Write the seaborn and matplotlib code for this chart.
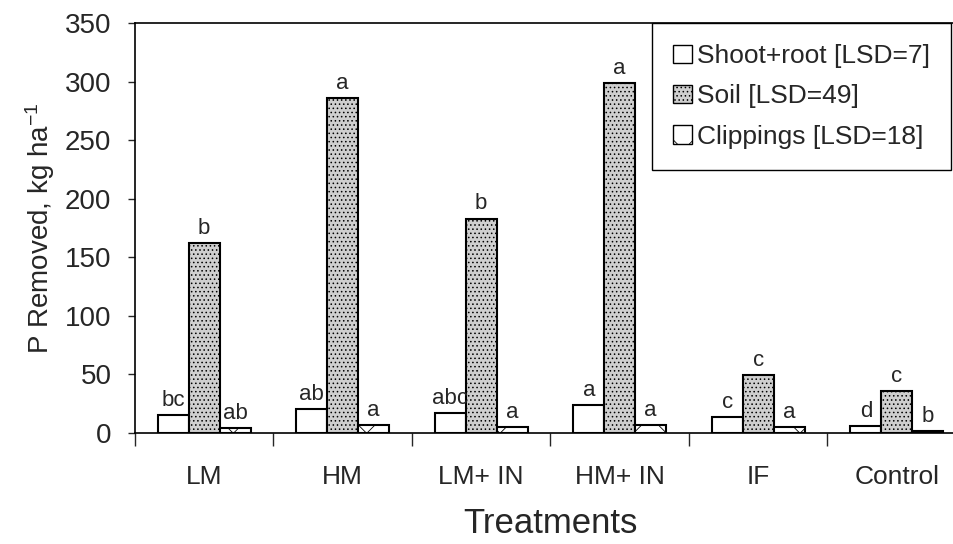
import pandas as pd
import matplotlib.pyplot as plt
import seaborn as sns
from matplotlib.patches import Patch

# chart data
treatments = ["LM", "HM", "LM+ IN", "HM+ IN", "IF", "Control"]
shoot_root = [15.5, 20.5, 17, 24, 13.5, 6]
soil = [162, 286, 183, 299, 49.5, 36]
clippings = [4, 7, 5, 7, 5, 1.5]

shoot_letters = ["bc", "ab", "abc", "a", "c", "d"]
soil_letters = ["b", "a", "b", "a", "c", "c"]
clip_letters = ["ab", "a", "a", "a", "a", "b"]

components = ["Shoot+root [LSD=7]", "Soil [LSD=49]", "Clippings [LSD=18]"]

rows = []
for comp, vals in zip(components, [shoot_root, soil, clippings]):
    for t, v in zip(treatments, vals):
        rows.append({"Treatment": t, "P": v, "Component": comp})
df = pd.DataFrame(rows)

sns.set_style("ticks")
plt.rcParams["font.family"] = ["Liberation Sans", "DejaVu Sans"]
plt.rcParams["mathtext.default"] = "regular"
plt.rcParams["hatch.linewidth"] = 0.6

fig = plt.figure(figsize=(9.54, 5.44), dpi=100)
ax = fig.add_axes([135 / 954, 111 / 544, 831 / 954, 410 / 544])

sns.barplot(data=df, x="Treatment", y="P", hue="Component", order=treatments,
            hue_order=components, palette=["white", "#c8c8c8", "white"],
            width=0.67, edgecolor="black", linewidth=1.5, legend=False, ax=ax)

# styles per series
faces = ["white", "#cfcfcf", "white"]
hatches = [None, "....", "x"]
letters = [shoot_letters, soil_letters, clip_letters]
for cont, fc, h, labs in zip(ax.containers, faces, hatches, letters):
    for bar, lab in zip(cont, labs):
        bar.set_facecolor(fc)
        bar.set_edgecolor("black")
        if h:
            bar.set_hatch(h)
        ax.annotate(lab, (bar.get_x() + bar.get_width() / 2, bar.get_height()),
                    xytext=(0, 3), textcoords="offset points",
                    ha="center", va="bottom", fontsize=16)

ax.set_ylim(0, 350)
ax.set_yticks(range(0, 351, 50))
ax.set_xlim(-0.5, 5.5)
ax.set_xticks([i + 0.5 for i in range(-1, 6)], minor=True)
ax.tick_params(axis="x", which="major", length=0, pad=23, labelsize=19)
ax.tick_params(axis="x", which="minor", length=9, width=1, direction="out")
ax.tick_params(axis="y", length=5, width=1, direction="out", pad=12, labelsize=20)

for s in ["left", "bottom", "top"]:
    ax.spines[s].set_visible(True)
    ax.spines[s].set_linewidth(1.2)
    ax.spines[s].set_color("black")
ax.spines["right"].set_visible(False)

ax.set_xlabel("Treatments", fontsize=25, labelpad=13)
ax.set_ylabel("P Removed, kg ha$^{-1}$", fontsize=20, labelpad=6)

handles = [Patch(facecolor=fc, edgecolor="black", hatch=h, linewidth=1)
           for fc, h in zip(faces, hatches)]
leg = fig.legend(handles, components, loc="upper left",
                 bbox_to_anchor=(652 / 954, 1 - 23 / 544), borderaxespad=0,
                 fontsize=19, frameon=True, fancybox=False, framealpha=1,
                 edgecolor="black", handlelength=0.7, handleheight=0.7,
                 handletextpad=0.2, labelspacing=0.62, borderpad=0.8)
leg.get_frame().set_linewidth(1)

fig.savefig("out.png", dpi=100)
